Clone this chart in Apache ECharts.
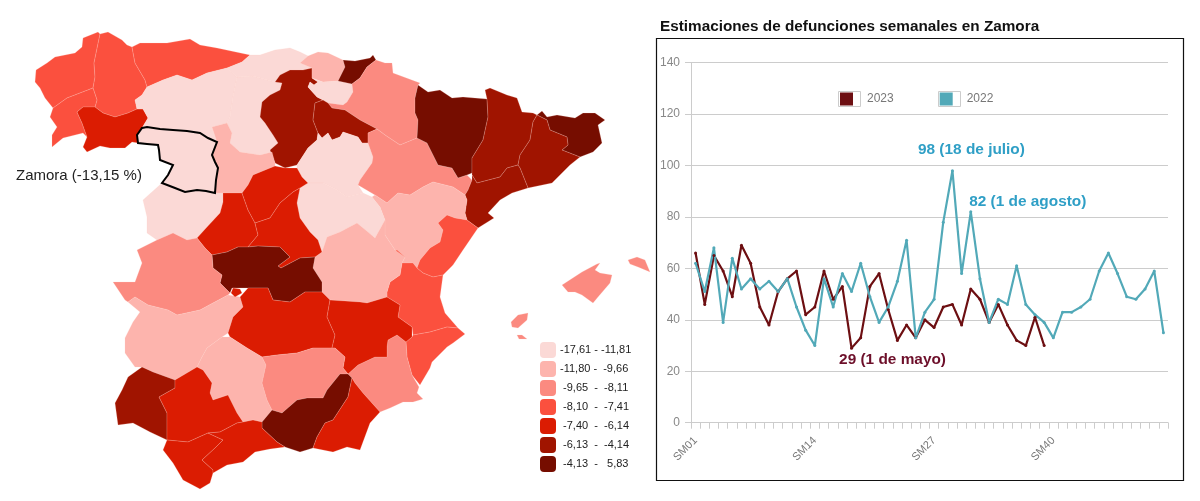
<!DOCTYPE html>
<html>
<head>
<meta charset="utf-8">
<title>Defunciones semanales en Zamora</title>
<script src="https://cdn.jsdelivr.net/npm/echarts@6/dist/echarts.min.js"></script>
<style>
  html, body { margin: 0; padding: 0; background: #fff; }
  #main { width: 1200px; height: 501px; }
</style>
</head>
<body>
<div id="main"></div>
<script>
// semanas
var weeks = [];
for (var w = 1; w <= 52; w++) { weeks.push('SM' + (w < 10 ? '0' + w : w)); }

var deaths2023 = [66, 46, 65, 59, 49, 69, 62, 45, 38, 51, 56, 59, 42, 45, 59, 48, 53, 29, 33, 53, 58, 44, 32, 38, 33, 40, 37, 45, 46, 38, 52, 48, 39, 46, 38, 32, 30, 41, 30];
var deaths2022 = [62, 51, 68, 39, 64, 52, 56, 52, 55, 51, 56, 45, 36, 30, 56, 45, 58, 51, 62, 49, 39, 45, 55, 71, 33, 43, 48, 78, 98, 58, 82, 56, 39, 48, 46, 61, 46, 42, 39, 33, 43, 43, 45, 48, 59, 66, 58, 49, 48, 52, 59, 35];

// provincias: valor estimado dentro de cada tramo de la leyenda
var provinceNames = ['A Coruña', 'Lugo', 'Pontevedra', 'Ourense', 'Asturias', 'León', 'Palencia', 'Cantabria', 'Burgos', 'Bizkaia', 'Álava', 'Gipuzkoa', 'Navarra', 'La Rioja', 'Soria', 'Zaragoza', 'Huesca', 'Lleida', 'Girona', 'Barcelona', 'Tarragona', 'Teruel', 'Castellón', 'Valencia', 'Alicante', 'Murcia', 'Guadalajara', 'Cuenca', 'Valladolid', 'Salamanca', 'Ávila', 'Segovia', 'Madrid', 'Toledo', 'Cáceres', 'Badajoz', 'Ciudad Real', 'Albacete', 'Córdoba', 'Jaén', 'Granada', 'Almería', 'Huelva', 'Sevilla', 'Cádiz', 'Málaga', 'Baleares', 'Zamora'];
var provinceValues = [-7.8, -7.7, -7.6, -6.8, -7.9, -13.5, -12.4, -14.0, -5.2, -10.5, -12.8, -2.1, -8.9, -5.0, -15.1, -8.8, -1.5, -5.4, -3.2, -5.1, -4.9, -10.2, -7.7, -7.6, -7.8, -9.0, -13.2, -10.6, -10.9, -12.9, -6.6, -6.9, -6.5, -3.0, -9.1, -10.8, -6.7, -6.4, -10.4, -8.7, -2.8, -6.6, -4.8, -6.9, -6.3, -6.7, -8.5, -13.15];

var legendRanges = [
  { min: -17.61, max: -11.81, label: '-17,61 - -11,81', color: '#fbd9d6' },
  { min: -11.80, max: -9.66, label: '-11,80 -  -9,66', color: '#fdb4ad' },
  { min: -9.65, max: -8.11, label: ' -9,65  -  -8,11', color: '#fb8a80' },
  { min: -8.10, max: -7.41, label: ' -8,10  -  -7,41', color: '#fb503e' },
  { min: -7.40, max: -6.14, label: ' -7,40  -  -6,14', color: '#db1c02' },
  { min: -6.13, max: -4.14, label: ' -6,13  -  -4,14', color: '#a01400' },
  { min: -4.13, max: 5.83, label: ' -4,13  -   5,83', color: '#760d00' }
];

// contornos calcados de la imagen
var outlines = {
  'A Coruña': ['67,98 53,108 45,98 40,88 35,82 36,70 47,63 55,57 75,53 82,47 83,38 98,32 100,34 94,63 95,77 93,88'],
  'Lugo': ['100,34 108,32 122,40 127,45 132,47 135,63 145,80 147,87 142,95 135,100 137,109 128,113 115,117 103,113 95,107 97,100 93,88 95,77 94,63'],
  'Pontevedra': ['53,108 50,117 57,127 52,135 52,147 63,138 83,133 87,137 82,123 77,112 83,107 95,107 97,100 93,88 67,98'],
  'Ourense': ['77,112 83,107 95,107 103,113 115,117 128,113 137,109 143,109 148,118 142,128 137,135 138,143 132,142 125,148 110,148 100,146 87,152 83,147 87,137 82,123'],
  'Asturias': ['132,47 140,43 167,43 190,39 200,45 217,48 250,55 242,62 227,68 207,73 192,80 177,75 163,80 147,87 145,80 135,63'],
  'León': ['142,95 147,87 163,80 177,75 192,80 207,73 227,68 237,77 233,97 230,117 227,123 212,127 217,142 200,133 173,130 142,128 148,118 143,109 137,109 135,100'],
  'Palencia': ['237,77 253,76 275,82 282,83 280,90 270,95 262,102 260,117 265,123 273,135 278,143 270,150 272,152 260,155 240,152 230,143 232,133 227,123 230,117 233,97'],
  'Cantabria': ['227,68 242,62 250,55 260,55 275,50 290,48 300,52 308,56 300,63 312,68 303,70 290,70 280,75 275,82 253,76 237,77'],
  'Burgos': ['275,82 280,75 290,70 303,70 312,68 312,78 318,82 314,85 310,82 308,87 317,97 323,100 315,103 313,120 318,133 317,140 308,148 297,165 285,168 275,163 270,150 278,143 273,135 265,123 260,117 262,102 270,95 280,90 282,83'],
  'Bizkaia': ['300,63 308,56 318,52 328,53 343,60 345,67 338,81 323,82 312,78 312,68'],
  'Álava': ['312,78 323,82 338,81 352,84 353,92 347,102 343,105 328,103 323,100 317,97 308,87 310,82 314,85 318,82'],
  'Gipuzkoa': ['343,60 355,61 370,58 373,55 376,60 367,67 360,78 352,84 338,81 345,67'],
  'Navarra': ['376,60 385,63 392,63 393,73 420,83 418,85 415,98 415,113 418,120 417,138 400,145 385,135 377,129 360,120 345,110 332,108 328,103 343,105 347,102 353,92 352,84 360,78 367,67'],
  'La Rioja': ['313,120 315,103 323,100 328,103 332,108 345,110 360,120 377,129 368,133 368,143 362,143 358,137 343,132 340,137 332,140 328,133 322,138 318,133'],
  'Soria': ['318,133 322,138 328,133 332,140 340,137 343,132 358,137 362,143 368,143 373,157 372,163 360,180 358,185 363,193 347,197 337,190 323,183 308,183 302,177 297,170 297,165 308,148 317,140'],
  'Zaragoza': ['417,138 427,143 438,165 452,168 458,178 467,175 472,180 468,190 465,195 453,187 433,182 423,187 410,195 398,193 387,203 375,195 358,185 360,180 372,163 373,157 368,143 368,133 377,129 385,135 400,145'],
  'Huesca': ['418,85 428,92 440,90 452,98 463,97 487,99 488,117 483,140 472,158 472,173 467,175 458,178 452,168 438,165 427,143 417,138 418,120 415,113 415,98'],
  'Lleida': ['485,90 490,88 507,95 517,98 522,112 533,113 537,115 533,122 530,140 520,155 518,165 507,168 500,177 477,183 472,175 472,158 483,140 488,117 487,99'],
  'Girona': ['537,115 542,111 547,117 557,115 575,118 583,113 595,113 605,120 598,125 602,143 593,152 580,157 562,150 568,145 567,137 550,130 547,120'],
  'Barcelona': ['533,122 537,115 547,120 550,130 567,137 568,145 562,150 580,157 570,165 552,183 528,188 520,168 518,165 520,155 530,140'],
  'Tarragona': ['472,175 477,183 500,177 507,168 518,165 520,168 528,188 512,193 500,200 488,213 494,218 478,228 467,220 465,213 467,200 465,195 468,190 472,180'],
  'Teruel': ['372,197 375,195 387,203 398,193 410,195 423,187 433,182 453,187 465,195 467,200 465,213 467,220 455,218 447,215 438,223 443,230 440,242 430,248 420,260 417,268 413,263 402,263 405,257 395,250 385,235 385,220 380,207'],
  'Castellón': ['447,215 455,218 467,220 478,228 463,250 453,265 443,275 433,277 423,273 417,268 420,260 430,248 440,242 443,230 438,223'],
  'Valencia': ['402,263 413,263 417,268 423,273 433,277 443,275 440,297 445,313 458,328 447,327 430,332 413,335 412,327 398,317 400,305 387,297 387,292 390,282 400,275', '390,253 397,250 405,257 398,260'],
  'Alicante': ['465,334 453,343 447,347 432,362 430,368 420,385 412,375 407,357 406,342 412,337 413,335 430,332 447,327 458,328'],
  'Murcia': ['348,374 358,365 375,357 387,357 387,347 388,340 397,335 406,342 407,357 412,375 419,387 417,393 423,399 413,402 403,402 390,408 380,412 363,393 355,383 352,378'],
  'Guadalajara': ['372,197 380,207 385,220 375,238 368,232 357,223 340,232 327,237 322,252 318,240 310,232 300,218 297,203 300,188 308,183 323,183 337,190 347,197 363,193'],
  'Cuenca': ['327,237 340,232 357,223 368,232 375,238 385,220 385,235 395,250 405,257 402,263 400,275 390,282 387,292 387,297 367,303 360,302 330,300 322,292 322,282 313,268 315,257 322,252'],
  'Valladolid': ['212,127 227,123 232,133 230,143 240,152 260,155 272,152 275,163 275,166 253,175 248,185 242,193 223,193 215,193 218,168 212,155 217,142'],
  'Salamanca': ['162,183 175,188 185,192 197,190 215,193 223,193 223,202 220,213 207,227 197,238 187,240 173,233 157,240 147,233 147,217 143,200'],
  'Ávila': ['223,193 242,193 248,210 255,223 258,235 248,247 238,247 227,252 212,255 205,248 197,238 207,227 220,213 223,202'],
  'Segovia': ['242,193 248,185 253,175 275,166 285,168 297,168 302,177 308,183 300,188 293,192 280,203 270,218 255,223 248,210'],
  'Madrid': ['255,223 270,218 280,203 293,192 300,188 297,203 300,218 310,232 318,240 322,252 315,257 300,258 281,268 278,266 290,257 280,247 258,246 248,247 258,235'],
  'Toledo': ['212,255 227,252 238,247 248,247 258,246 280,247 290,257 278,266 281,268 300,258 315,257 313,268 322,282 322,292 305,292 290,302 273,300 268,288 248,288 232,288 230,293 220,283 222,275 213,268'],
  'Cáceres': ['137,250 157,240 173,233 187,240 197,238 205,248 212,255 213,268 222,275 220,283 230,293 228,295 213,303 200,310 177,315 168,310 148,305 135,297 128,302 125,300 113,282 135,282 142,263'],
  'Badajoz': ['135,297 148,305 168,310 177,315 200,310 213,303 228,295 240,297 243,307 233,317 228,333 222,337 207,348 202,357 197,367 175,380 153,372 142,367 135,367 125,353 125,338 133,322 140,312 128,302'],
  'Ciudad Real': ['230,337 228,333 233,317 243,307 240,297 248,288 268,288 273,300 290,302 305,292 322,292 330,300 327,317 335,335 332,348 313,348 297,353 277,355 262,357 247,348', '231,293 233,288 240,289 242,293 235,297'],
  'Albacete': ['330,300 360,302 367,303 387,297 400,305 398,317 412,327 412,337 406,342 397,335 388,340 387,347 387,357 375,357 358,365 348,374 343,368 345,357 335,348 332,348 335,335 327,317'],
  'Córdoba': ['202,357 207,348 222,337 230,337 247,348 262,357 266,365 262,383 267,400 272,410 262,422 253,420 243,422 237,413 228,395 213,400 210,393 212,383 203,370 197,367'],
  'Jaén': ['262,357 277,355 297,353 313,348 332,348 335,348 345,357 343,368 348,374 340,374 327,390 323,398 307,398 297,400 282,413 272,410 267,400 262,383 266,365'],
  'Granada': ['340,374 348,374 352,378 348,397 333,420 325,423 317,437 313,448 300,452 285,447 277,442 262,428 262,422 272,410 282,413 297,400 307,398 323,398 327,390'],
  'Almería': ['352,378 355,383 363,393 380,412 370,423 360,450 347,447 333,452 313,448 317,437 325,423 333,420 348,397'],
  'Huelva': ['142,367 128,377 122,390 115,403 118,425 133,423 150,432 167,440 167,413 159,397 175,388 175,380 153,372'],
  'Sevilla': ['175,380 197,367 203,370 212,383 210,393 213,400 228,395 237,413 243,422 237,423 220,432 208,433 188,442 167,440 167,413 159,397 175,388'],
  'Cádiz': ['167,440 188,442 208,433 223,440 215,448 202,460 213,470 213,473 210,483 200,489 183,480 173,463 163,450'],
  'Málaga': ['243,422 253,420 262,422 262,428 277,442 285,447 270,449 255,452 243,462 227,465 213,473 213,470 202,460 215,448 223,440 208,433 220,432 237,423'],
  'Baleares': ['562,285 582,272 597,264 600,263 595,270 600,273 612,275 610,283 598,297 593,303 582,295 575,292 568,292', '628,260 637,257 645,260 650,272 638,267 630,264', '511,322 518,315 528,313 527,320 518,328 512,327', '517,335 522,335 527,339 519,339'],
  'Zamora': ['142,128 147,127 160,129 173,130 187,131 200,133 208,138 217,142 212,155 215,162 218,168 216,180 215,193 206,191 197,190 185,192 175,188 162,183 168,175 173,165 160,160 159,150 158,145 147,144 138,143 137,135']
};

function parseRing(text) {
  var ring = text.split(' ').map(function (p) { return p.split(',').map(Number); });
  ring.push(ring[0]);
  return ring;
}

var minX = Infinity, minY = Infinity, maxX = -Infinity, maxY = -Infinity;
var features = provinceNames.map(function (name) {
  var rings = outlines[name].map(parseRing);
  rings.forEach(function (ring) {
    ring.forEach(function (p) {
      minX = Math.min(minX, p[0]); maxX = Math.max(maxX, p[0]);
      minY = Math.min(minY, p[1]); maxY = Math.max(maxY, p[1]);
    });
  });
  return {
    type: 'Feature',
    properties: { name: name },
    geometry: { type: 'MultiPolygon', coordinates: rings.map(function (r) { return [r]; }) }
  };
});
echarts.registerMap('provincias', { type: 'FeatureCollection', features: features });

var lineFont = 'Liberation Sans, Arial, sans-serif';
var color2023 = '#6d0f12';
var color2022 = '#52a9b8';
var noteBlue = '#2f9fc6';
// icono de leyenda: cuadro de color dentro de un marco mas ancho
var legendIcon = 'path://M0,0H13V13H0Z M22,0L22,13Z';

function noteLabel(text, color, position, offset) {
  return { show: true, formatter: text, position: position, offset: offset, color: color, fontFamily: lineFont, fontSize: 15.4, fontWeight: 'bold' };
}

var points2023 = deaths2023.slice();
points2023[17] = { value: deaths2023[17], label: noteLabel('29 (1 de mayo)', '#6d0f2a', 'bottom', [41, -2]) };
var points2022 = deaths2022.slice();
points2022[28] = { value: deaths2022[28], label: noteLabel('98 (18 de julio)', noteBlue, 'top', [19, -7]) };
points2022[30] = { value: deaths2022[30], label: noteLabel('82 (1 de agosto)', noteBlue, 'top', [57, 4]) };

var chart = echarts.init(document.getElementById('main'));
chart.setOption({
  animation: false,
  backgroundColor: '#fff',
  title: {
    text: 'Estimaciones de defunciones semanales en Zamora',
    left: 655, top: 14,
    textStyle: { fontFamily: lineFont, fontSize: 15.3, fontWeight: 'bold', color: '#111' }
  },
  graphic: [
    { type: 'rect', shape: { x: 656.5, y: 38.5, width: 527, height: 442 }, style: { fill: 'none', stroke: '#111', lineWidth: 1.2 }, z: 0 },
    { type: 'rect', shape: { x: 838.5, y: 91.5, width: 22, height: 15 }, style: { fill: '#fff', stroke: '#ccc', lineWidth: 1 }, z: 0 },
    { type: 'rect', shape: { x: 938.5, y: 91.5, width: 22, height: 15 }, style: { fill: '#fff', stroke: '#ccc', lineWidth: 1 }, z: 0 },
    { type: 'text', x: 16, y: 168, style: { text: 'Zamora (-13,15 %)', font: '15px ' + lineFont, fill: '#222' }, z: 10 }
  ],
  legend: {
    left: 840, top: 92.5, itemWidth: 22, itemHeight: 13, itemGap: 46, icon: legendIcon,
    data: ['2023', '2022'], selectedMode: false,
    textStyle: { color: '#777', fontFamily: lineFont, fontSize: 12 },
    padding: 0
  },
  grid: { left: 691, right: 32, top: 62.7, bottom: 78.3 },
  xAxis: {
    type: 'category', data: weeks, boundaryGap: true,
    axisLine: { lineStyle: { color: '#ccc' } },
    axisTick: { show: true, interval: 0, length: 6, lineStyle: { color: '#ccc' } },
    axisLabel: { interval: 12, rotate: 45, color: '#777', fontFamily: lineFont, fontSize: 11, margin: 16 },
    splitLine: { show: false }
  },
  yAxis: {
    type: 'value', min: 0, max: 140, interval: 20,
    axisLine: { show: true, lineStyle: { color: '#ccc' } },
    axisTick: { show: true, length: 6, lineStyle: { color: '#ccc' } },
    axisLabel: { color: '#888', fontFamily: lineFont, fontSize: 12, margin: 11 },
    splitLine: { lineStyle: { color: '#ccc' } }
  },
  visualMap: {
    type: 'piecewise', seriesIndex: 2, left: 540, top: 342, orient: 'vertical', inverse: true,
    pieces: legendRanges, selectedMode: false, hoverLink: false, padding: 0,
    itemWidth: 16, itemHeight: 16, itemGap: 3, itemSymbol: 'roundRect', textGap: 4, align: 'left',
    textStyle: { color: '#222', fontFamily: lineFont, fontSize: 11 }
  },
  series: [
    {
      name: '2023', type: 'line', data: points2023, symbol: 'circle', symbolSize: 3, showSymbol: true, silent: true,
      lineStyle: { color: color2023, width: 2.2 }, itemStyle: { color: color2023 }
    },
    {
      name: '2022', type: 'line', data: points2022, symbol: 'circle', symbolSize: 3, showSymbol: true, silent: true,
      lineStyle: { color: color2022, width: 2.2 }, itemStyle: { color: color2022 }
    },
    {
      type: 'map', map: 'provincias', silent: true, roam: false, showLegendSymbol: false,
      projection: { project: function (p) { return p; }, unproject: function (p) { return p; } },
      left: minX, top: minY, width: maxX - minX, height: maxY - minY,
      label: { show: false },
      itemStyle: { borderColor: 'rgba(255,205,195,0.35)', borderWidth: 0.6 },
      data: provinceNames.map(function (name, i) {
        var item = { name: name, value: provinceValues[i] };
        if (name === 'Zamora') { item.itemStyle = { borderColor: '#000', borderWidth: 2 }; }
        return item;
      })
    }
  ]
});
</script>
</body>
</html>
